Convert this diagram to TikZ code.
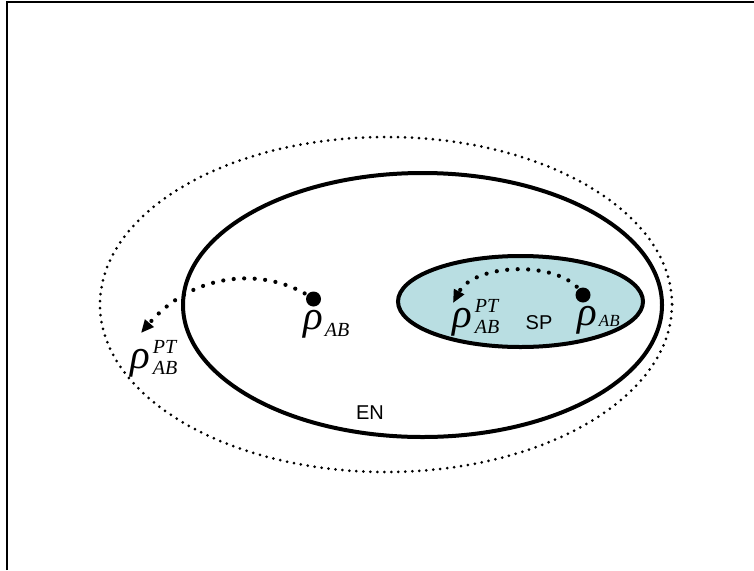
\documentclass[tikz,border=0pt]{standalone}
\usepackage{fontspec}
\setmainfont{Liberation Serif}
\newfontfamily\arialfont{Liberation Sans}
\usetikzlibrary{arrows.meta}
\definecolor{spfill}{RGB}{185,222,226}
\newcommand\bigrho{{\fontsize{41}{41}\selectfont\itshape ρ}}
\newcommand\smallit[1]{{\fontsize{20}{20}\selectfont\itshape #1}}
\newcommand\tinyit[1]{{\fontsize{17}{17}\selectfont\itshape #1}}
\newcommand\rhoAB{\bigrho\kern2pt\raisebox{-7pt}{\smallit{AB}}}
\newcommand\rhoABsmall{\bigrho\kern2pt\raisebox{-1pt}{\tinyit{AB}}}
\newcommand\rhoPTAB{\bigrho\kern3pt\rlap{\raisebox{15pt}{\smallit{PT}}}\raisebox{-6pt}{\smallit{AB}}}
\begin{document}
\begin{tikzpicture}[x=1pt,y=-1pt,
  frameline/.style={line width=1.4pt},
  outerdots/.style={line width=3pt, line cap=round, dash pattern=on 0pt off 7pt},
  boldline/.style={line width=4pt},
  arrowdots/.style={line width=4.2pt, line cap=round, dash pattern=on 0pt off 10.5pt, -{Triangle[length=13pt,width=11pt]}},
  dotnode/.style={circle, fill=black, inner sep=0pt, minimum size=15pt},
  rholabel/.style={anchor=base west, inner sep=0pt},
  sanslabel/.style={inner sep=0pt, font=\arialfont\fontsize{20}{20}\selectfont}]
\useasboundingbox (0,0) rectangle (754,570);
\draw[frameline] (7,570) -- (7,2) -- (754,2);
% ellipses
\draw[outerdots] (386,304.5) ellipse [x radius=286, y radius=167.5];
\draw[boldline] (422.5,305) ellipse [x radius=239.5, y radius=132];
\draw[boldline, fill=spfill] (520.5,301.5) ellipse [x radius=122.5, y radius=45.5];
% dots
\node[dotnode] (d1) at (313.5,299) {};
\node[dotnode] (d2) at (583,295) {};
\coordinate (t1) at (141,333);
\coordinate (t2) at (453,303);
% arrows
\draw[arrowdots] (d1.center) .. controls (268,267) and (195,270) .. (t1);
\draw[arrowdots] (d2.center) .. controls (565,260) and (475,262) .. (t2);
% labels
\node[rholabel] (r1) at (303,329) {\rhoAB};
\node[rholabel] (r2) at (130,368) {\rhoPTAB};
\node[rholabel] (r3) at (452,327) {\rhoPTAB};
\node[rholabel] (r4) at (577,325) {\rhoABsmall};
\node[sanslabel] (sp) at (539,323) {SP};
\node[sanslabel] (en) at (370,413) {EN};
\end{tikzpicture}
\end{document}
